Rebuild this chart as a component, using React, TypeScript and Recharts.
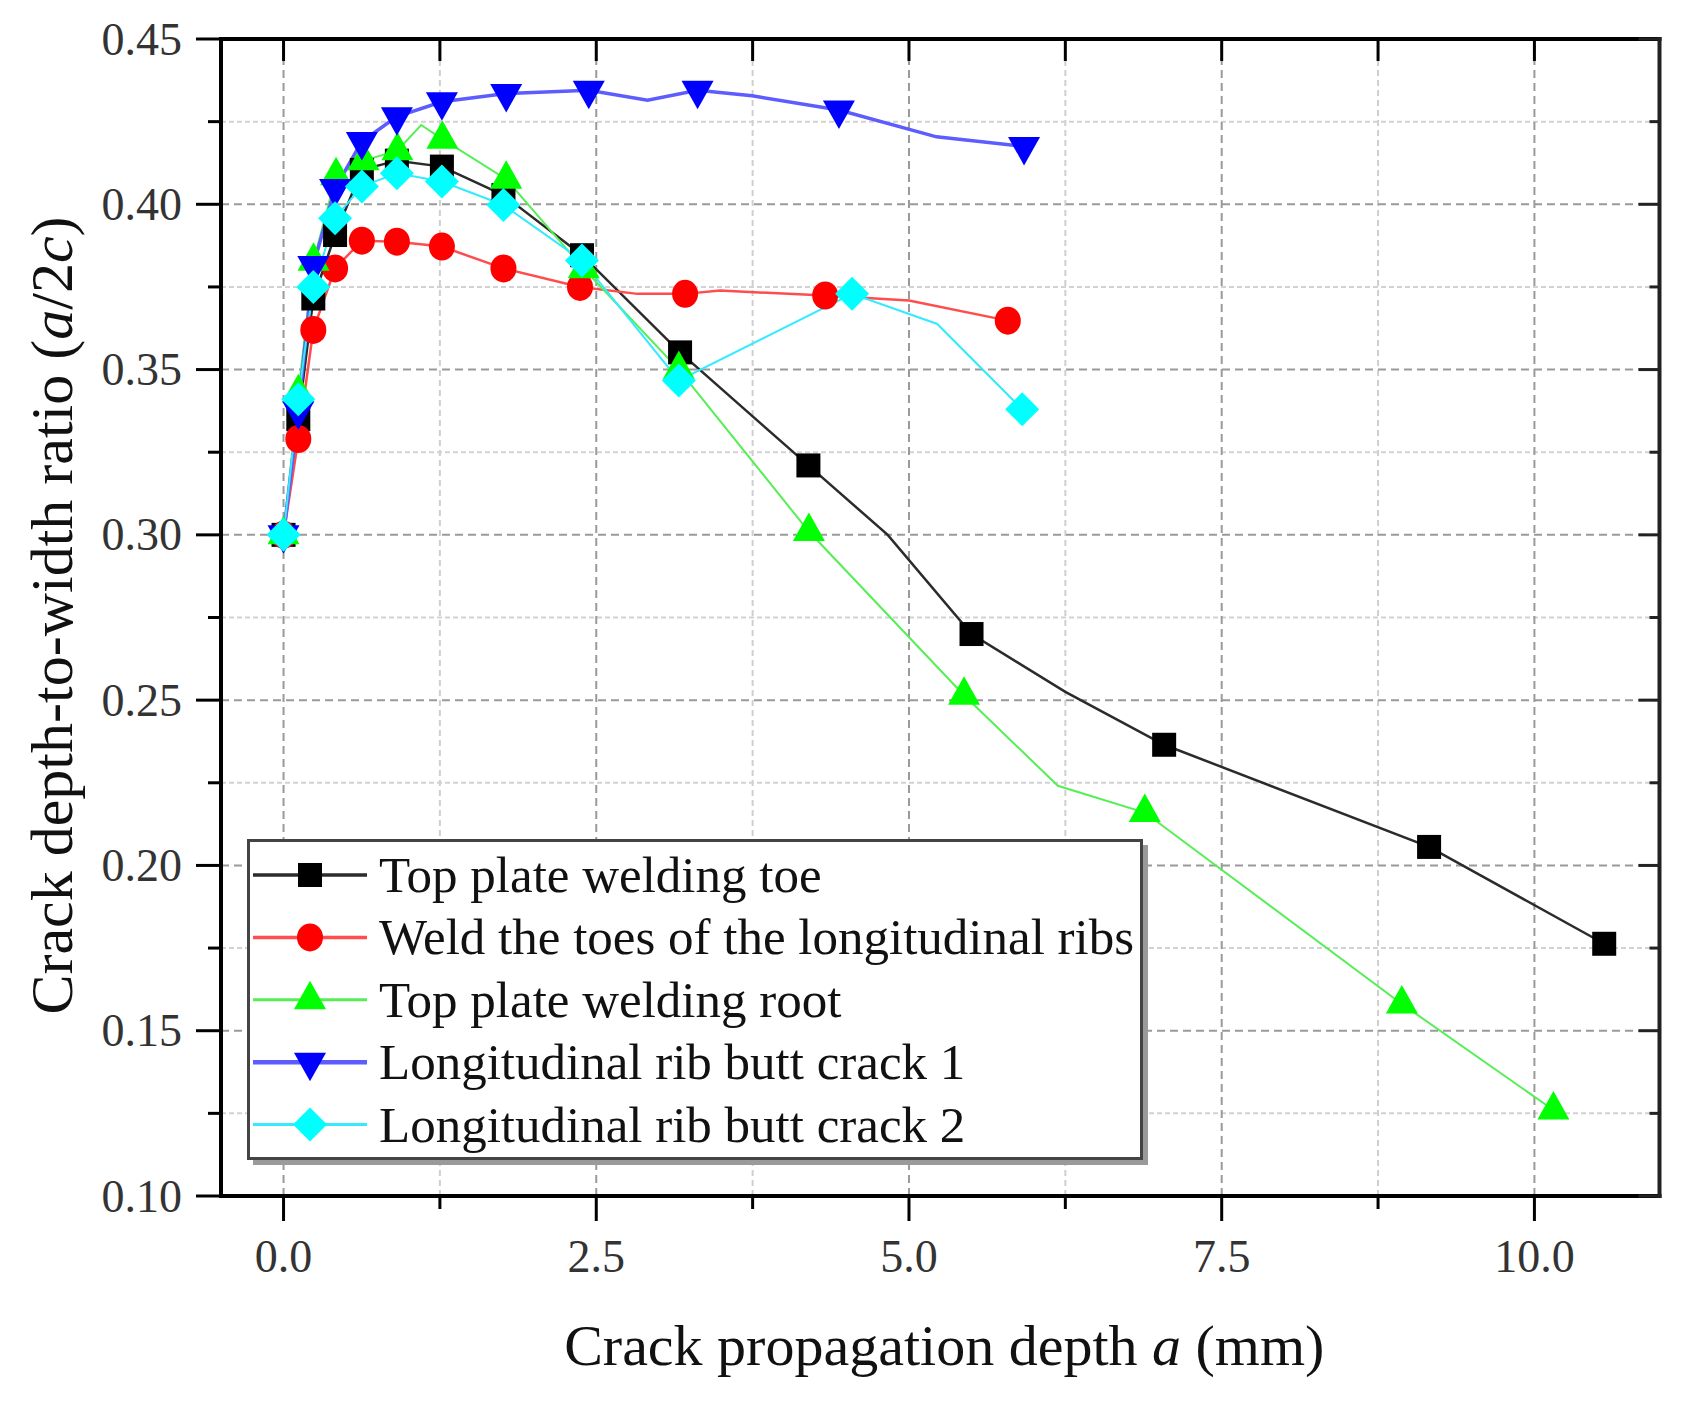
import React from 'react';
import { LineChart, Line, XAxis, YAxis, ReferenceLine, Legend, Label } from 'recharts';

const FONT = '"Liberation Serif", "Times New Roman", Times, serif';

// ---- axis ticks ----
const X_MAJOR_TICKS = [0, 2.5, 5, 7.5, 10];
const X_MINOR_TICKS = [1.25, 3.75, 6.25, 8.75];
const Y_MAJOR_TICKS = [0.1, 0.15, 0.2, 0.25, 0.3, 0.35, 0.4, 0.45];
const Y_MINOR_TICKS = [0.125, 0.175, 0.225, 0.275, 0.325, 0.375, 0.425];
const X_DOMAIN = [-0.5, 11];
const Y_DOMAIN = [0.1, 0.45];

// ---- data: [a (mm), a/2c] ; *_BENDS are line vertices drawn without symbol ----
const TOE_POINTS = [
  [0, 0.3], [0.118, 0.335], [0.238, 0.3715], [0.412, 0.3907], [0.626, 0.4104], [0.906, 0.4132],
  [1.266, 0.4114], [1.758, 0.4028], [2.386, 0.3846], [3.17, 0.3552], [4.196, 0.321], [5.5, 0.27],
  [7.04, 0.2365], [9.158, 0.2056], [10.558, 0.1763],
];
const TOE_BENDS = [[4.83, 0.3], [6.25, 0.2525]];

const RIB_TOE_POINTS = [
  [0, 0.3], [0.118, 0.329], [0.238, 0.362], [0.412, 0.3806], [0.626, 0.389], [0.906, 0.3887],
  [1.266, 0.3872], [1.758, 0.3806], [2.37, 0.375], [3.21, 0.3729], [4.33, 0.3724], [5.79, 0.3648],
];
const RIB_TOE_BENDS = [[2.83, 0.3729], [3.49, 0.3739], [5.0, 0.3709]];

const ROOT_POINTS = [
  [0, 0.3], [0.118, 0.343], [0.24, 0.3828], [0.42, 0.4086], [0.64, 0.4132], [0.91, 0.4162],
  [1.27, 0.4197], [1.78, 0.4076], [2.4, 0.3805], [3.16, 0.35], [4.2, 0.301], [5.44, 0.2515],
  [6.885, 0.216], [8.94, 0.1581], [10.152, 0.126],
];
const ROOT_BENDS = [[1.1, 0.424], [6.19, 0.2241]];

const CRACK1_POINTS = [
  [0, 0.3], [0.118, 0.3375], [0.238, 0.3815], [0.412, 0.4048], [0.626, 0.419], [0.906, 0.4265],
  [1.266, 0.431], [1.78, 0.4335], [2.44, 0.4345], [3.31, 0.4345], [4.44, 0.4285], [5.92, 0.4175],
];
const CRACK1_BENDS = [[2.91, 0.4315], [3.745, 0.4328], [5.22, 0.4204]];

const CRACK2_POINTS = [
  [0, 0.3], [0.118, 0.341], [0.238, 0.375], [0.412, 0.3958], [0.626, 0.4054], [0.906, 0.4094],
  [1.266, 0.4069], [1.758, 0.3998], [2.386, 0.383], [3.16, 0.3467], [4.545, 0.3729], [5.905, 0.338],
];
const CRACK2_BENDS = [[5.226, 0.3638]];

const SERIES_NAMES = [
  'Top plate welding toe',
  'Weld the toes of the longitudinal ribs',
  'Top plate welding root',
  'Longitudinal rib butt crack 1',
  'Longitudinal rib butt crack 2',
];

type Pt = number[];
function buildData(points: Pt[], bends: Pt[]) {
  const rows = [
    ...points.map((p) => ({ x: p[0], y: p[1], marked: true })),
    ...bends.map((p) => ({ x: p[0], y: p[1], marked: false })),
  ];
  rows.sort((a, b) => a.x - b.x);
  return rows;
}

const SERIES = [
  { name: SERIES_NAMES[0], data: buildData(TOE_POINTS, TOE_BENDS), shape: 'square', marker: '#000000', line: '#2b2b2b', width: 2.5 },
  { name: SERIES_NAMES[1], data: buildData(RIB_TOE_POINTS, RIB_TOE_BENDS), shape: 'circle', marker: '#ff0000', line: '#ff4d4d', width: 2.5 },
  { name: SERIES_NAMES[2], data: buildData(ROOT_POINTS, ROOT_BENDS), shape: 'up', marker: '#00ff00', line: '#55ee55', width: 2 },
  { name: SERIES_NAMES[3], data: buildData(CRACK1_POINTS, CRACK1_BENDS), shape: 'down', marker: '#0000ff', line: '#5c5cff', width: 3.5 },
  { name: SERIES_NAMES[4], data: buildData(CRACK2_POINTS, CRACK2_BENDS), shape: 'diamond', marker: '#00ffff', line: '#33eaff', width: 2 },
];

function Marker({ shape, cx, cy, color }: { shape: string; cx: number; cy: number; color: string }) {
  switch (shape) {
    case 'square':
      return <rect x={cx - 12} y={cy - 12} width={24} height={24} fill={color} />;
    case 'circle':
      return <ellipse cx={cx} cy={cy} rx={13} ry={14} fill={color} />;
    case 'up':
      return <polygon points={`${cx},${cy - 19} ${cx - 16},${cy + 9.5} ${cx + 16},${cy + 9.5}`} fill={color} />;
    case 'down':
      return <polygon points={`${cx},${cy + 19} ${cx - 16},${cy - 9.5} ${cx + 16},${cy - 9.5}`} fill={color} />;
    default:
      return <polygon points={`${cx},${cy - 17} ${cx + 17},${cy} ${cx},${cy + 17} ${cx - 17},${cy}`} fill={color} />;
  }
}

function makeDot(shape: string, color: string) {
  return (props: any) => {
    const { cx, cy, payload, index } = props;
    if (!payload || !payload.marked || cx == null || cy == null) return <g key={`d${index}`} />;
    return (
      <g key={`d${index}`}>
        <Marker shape={shape} cx={cx} cy={cy} color={color} />
      </g>
    );
  };
}

const isMajor = (v: number, step: number) => Math.abs(v / step - Math.round(v / step)) < 1e-6;

const BottomTick = (props: any) => {
  const { x, y, payload } = props;
  const v = payload.value;
  const major = isMajor(v, 2.5);
  return (
    <g>
      <line x1={x} x2={x} y1={y} y2={y + (major ? 25 : 13)} stroke="#000" strokeWidth={3} />
      {major && (
        <text x={x} y={y + 76} textAnchor="middle" fontSize={46} fontFamily={FONT} fill="#333">
          {v.toFixed(1)}
        </text>
      )}
    </g>
  );
};

const TopTick = (props: any) => {
  const { x, y } = props;
  return <line x1={x} x2={x} y1={y} y2={y + 22} stroke="#000" strokeWidth={3} />;
};

const LeftTick = (props: any) => {
  const { x, y, payload } = props;
  const v = payload.value;
  const major = isMajor(v, 0.05);
  return (
    <g>
      <line x1={x} x2={x - (major ? 25 : 13)} y1={y} y2={y} stroke="#000" strokeWidth={3} />
      {major && (
        <text x={x - 39} y={y} dy="0.34em" textAnchor="end" fontSize={46} fontFamily={FONT} fill="#333">
          {v.toFixed(2)}
        </text>
      )}
    </g>
  );
};

const RightTick = (props: any) => {
  const { x, y, payload } = props;
  const major = isMajor(payload.value, 0.05);
  return <line x1={x} x2={x - (major ? 21 : 10)} y1={y} y2={y} stroke="#222" strokeWidth={3} />;
};

const XTitle = (props: any) => {
  const vb = props.viewBox || { x: 213, y: 1188, width: 1437, height: 150 };
  return (
    <text x={vb.x + vb.width / 2 + 4} y={vb.y + 169} textAnchor="middle" fontSize={58} fontFamily={FONT} fill="#111">
      Crack propagation depth <tspan fontStyle="italic">a</tspan> (mm)
    </text>
  );
};

const YTitle = (props: any) => {
  const vb = props.viewBox || { x: 0, y: 32, width: 213, height: 1156 };
  const cy = vb.y + vb.height / 2 - 2;
  return (
    <text transform={`translate(64, ${cy}) rotate(-90)`} textAnchor="middle" fontSize={60} fontFamily={FONT} fill="#111">
      Crack depth-to-width ratio (<tspan fontStyle="italic">a</tspan>/2<tspan fontStyle="italic">c</tspan>)
    </text>
  );
};

const LegendBox = () => {
  const W = 896;
  const H = 321;
  return (
    <svg width={W + 8} height={H + 8} style={{ display: 'block', overflow: 'visible' }}>
      <rect x={6} y={6} width={W - 1} height={H - 1} fill="#9a9a9a" />
      <rect x={1.5} y={1.5} width={W - 3} height={H - 3} fill="#ffffff" stroke="#444" strokeWidth={3} />
      {SERIES.map((s, i) => {
        const cy = 36 + i * 62.4;
        return (
          <g key={s.name}>
            <line x1={6} x2={120} y1={cy} y2={cy} stroke={s.line} strokeWidth={s.width + 1} />
            <Marker shape={s.shape} cx={63} cy={cy} color={s.marker} />
            <text x={132} y={cy + 17} fontSize={51} fontFamily={FONT} fill="#111">
              {s.name}
            </text>
          </g>
        );
      })}
    </svg>
  );
};

const ALL_X_TICKS = [...X_MAJOR_TICKS, ...X_MINOR_TICKS].sort((a, b) => a - b);
const ALL_Y_TICKS = [...Y_MAJOR_TICKS, ...Y_MINOR_TICKS].sort((a, b) => a - b);

export default function App() {
  const axisLine = { stroke: '#000', strokeWidth: 4, strokeLinecap: 'square' as const };
  return (
    <div style={{ width: 1688, height: 1389, background: '#fff' }}>
      <LineChart
        width={1688}
        height={1389}
        margin={{ top: 31, right: 36.5, left: 0, bottom: 51 }}
        style={{ fontFamily: FONT }}
      >
        {X_MINOR_TICKS.map((v) => (
          <ReferenceLine key={`xm${v}`} x={v} stroke="#cfcfcf" strokeWidth={2} strokeDasharray="6 4" />
        ))}
        {Y_MINOR_TICKS.map((v) => (
          <ReferenceLine key={`ym${v}`} y={v} stroke="#d2d2d2" strokeWidth={2} strokeDasharray="5 3" />
        ))}
        {X_MAJOR_TICKS.map((v) => (
          <ReferenceLine key={`xM${v}`} x={v} stroke="#9a9a9a" strokeWidth={2} strokeDasharray="8 5" />
        ))}
        {Y_MAJOR_TICKS.filter((v) => v > 0.11 && v < 0.44).map((v) => (
          <ReferenceLine key={`yM${v}`} y={v} stroke="#9a9a9a" strokeWidth={2} strokeDasharray="8 5" />
        ))}

        <XAxis
          dataKey="x"
          type="number"
          domain={X_DOMAIN}
          ticks={ALL_X_TICKS}
          interval={0}
          allowDataOverflow
          tickSize={0}
          tickMargin={0}
          tickLine={false}
          tick={BottomTick}
          axisLine={axisLine}
          height={150}
        >
          <Label content={XTitle} />
        </XAxis>
        <XAxis
          xAxisId="top"
          orientation="top"
          dataKey="x"
          type="number"
          domain={X_DOMAIN}
          ticks={ALL_X_TICKS}
          interval={0}
          allowDataOverflow
          mirror
          tickSize={0}
          tickMargin={0}
          tickLine={false}
          tick={TopTick}
          axisLine={axisLine}
          height={1}
        />
        <YAxis
          type="number"
          domain={Y_DOMAIN}
          ticks={ALL_Y_TICKS}
          interval={0}
          allowDataOverflow
          tickSize={0}
          tickMargin={0}
          tickLine={false}
          tick={LeftTick}
          axisLine={axisLine}
          width={213}
        >
          <Label content={YTitle} />
        </YAxis>
        <YAxis
          yAxisId="right"
          orientation="right"
          type="number"
          domain={Y_DOMAIN}
          ticks={ALL_Y_TICKS}
          interval={0}
          allowDataOverflow
          mirror
          tickSize={0}
          tickMargin={0}
          tickLine={false}
          tick={RightTick}
          axisLine={{ stroke: '#222', strokeWidth: 4, strokeLinecap: 'square' }}
          width={1}
        />

        {SERIES.map((s) => (
          <Line
            key={s.name}
            name={s.name}
            data={s.data}
            dataKey="y"
            type="linear"
            stroke={s.line}
            strokeWidth={s.width}
            dot={makeDot(s.shape, s.marker)}
            activeDot={false}
            isAnimationActive={false}
          />
        ))}

        <Legend
          layout="horizontal"
          verticalAlign="middle"
          align="center"
          content={LegendBox}
          wrapperStyle={{ position: 'absolute', left: 238.8, top: 831.3, width: 904, height: 329 }}
        />
      </LineChart>
    </div>
  );
}
